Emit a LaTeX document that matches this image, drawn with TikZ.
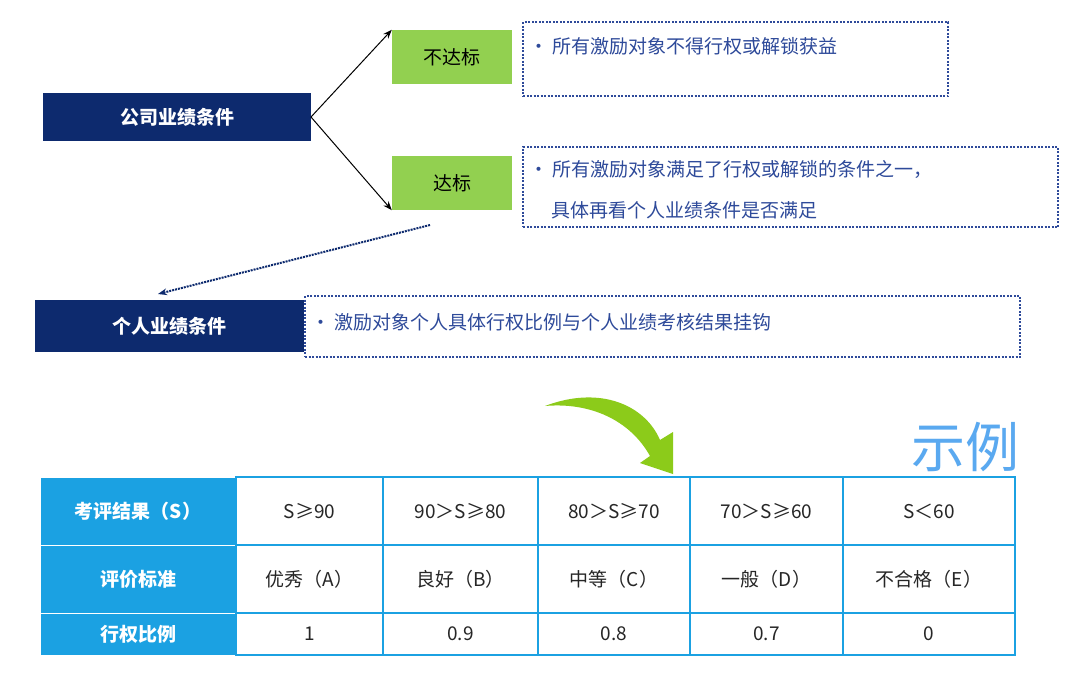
\documentclass[tikz,border=0pt]{standalone}
\usepackage{fontspec}
\setmainfont{Noto Sans CJK SC}
\usetikzlibrary{arrows.meta}
\definecolor{navy}{HTML}{0D2A6E}
\definecolor{lgreen}{HTML}{92D050}
\definecolor{dblue}{HTML}{2E4A9A}
\definecolor{tblue}{HTML}{1BA1E2}
\definecolor{agreen}{HTML}{8CCB1A}
\definecolor{sky}{HTML}{5AA9F0}
\begin{document}
\begin{tikzpicture}[x=1pt,y=-1pt,
  navybox/.style={fill=navy,text=white,font=\fontsize{19}{22}\selectfont\bfseries,inner sep=0},
  greenbox/.style={fill=lgreen,text=black,font=\fontsize{19}{22}\selectfont,inner sep=0},
  dbox/.style={draw=dblue,line width=1.2pt,dash pattern=on 2pt off 1.5pt,inner sep=0},
  btxt/.style={text=dblue,font=\fontsize{19}{22}\selectfont,anchor=west},
  hcell/.style={fill=tblue,draw=white,line width=1pt,text=white,font=\fontsize{19}{22}\selectfont\bfseries,inner sep=0},
  cell/.style={draw=tblue,line width=1.5pt,fill=white,text=black!85,font=\fontsize{19}{22}\selectfont,inner sep=0}]
\useasboundingbox (0,0) rectangle (1086,672);
\fill[white] (0,0) rectangle (1086,672);
\node[navybox,minimum width=268,minimum height=48] (c1) at (177,117) {公司业绩条件};
\node[greenbox,minimum width=120,minimum height=54] (g1) at (452,57) {不达标};
\node[greenbox,minimum width=120,minimum height=54] (g2) at (452,183) {达标};
\node[dbox,minimum width=425,minimum height=74] (d1) at (735.5,59) {};
\node[dbox,minimum width=535,minimum height=80] (d2) at (790.5,187) {};
\node[navybox,minimum width=269,minimum height=52] (c2) at (169.5,326) {个人业绩条件};
\node[dbox,minimum width=715,minimum height=61] (d3) at (662.5,326.5) {};
\node[btxt] (t1) at (526,46) {•\ 所有激励对象不得行权或解锁获益};
\node[btxt] (t2) at (526,169) {•\ 所有激励对象满足了行权或解锁的条件之一，};
\node[btxt] (t3) at (548,210) {具体再看个人业绩条件是否满足};
\node[btxt] (t4) at (308,322) {•\ 激励对象个人具体行权比例与个人业绩考核结果挂钩};
\coordinate (o1) at (311,117);
\draw[-{Stealth[length=9pt]},line width=1pt] (o1) -- (g1.north west);
\draw[-{Stealth[length=9pt]},line width=1pt] (o1) -- (g2.south west);
\coordinate (p1) at (430,225);
\coordinate (p2) at (158,294);
\draw[densely dotted,line width=2pt,navy,-{Stealth[length=9pt]}] (p1) -- (p2);
% table
\node[hcell,minimum width=196,minimum height=68] (h1) at (138,511) {考评结果（S）};
\node[hcell,minimum width=196,minimum height=68] (h2) at (138,579) {评价标准};
\node[hcell,minimum width=196,minimum height=42] (h3) at (138,634) {行权比例};
\foreach \x/\w/\a/\b/\c [count=\i] in {
 309.5/147/S≥90/优秀（A）/1,
 460.5/155/90＞S≥80/良好（B）/0.9,
 614/152/80＞S≥70/中等（C）/0.8,
 766.5/153/70＞S≥60/一般（D）/0.7,
 929/172/S＜60/不合格（E）/0}{
 \node[cell,minimum width=\w,minimum height=68] (r1c\i) at (\x,511) {\a};
 \node[cell,minimum width=\w,minimum height=68] (r2c\i) at (\x,579) {\b};
 \node[cell,minimum width=\w,minimum height=42] (r3c\i) at (\x,634) {\c};
}
\node[text=sky,font=\fontsize{54}{60}\selectfont] (ex) at (965,447) {示例};
\fill[agreen] (545,406) .. controls (600,385) and (645,405) .. (660,440) -- (673,432) -- (673,474) -- (640,463) -- (650,456) .. controls (630,420) and (590,402) .. (545,406) -- cycle;
\end{tikzpicture}
\end{document}
